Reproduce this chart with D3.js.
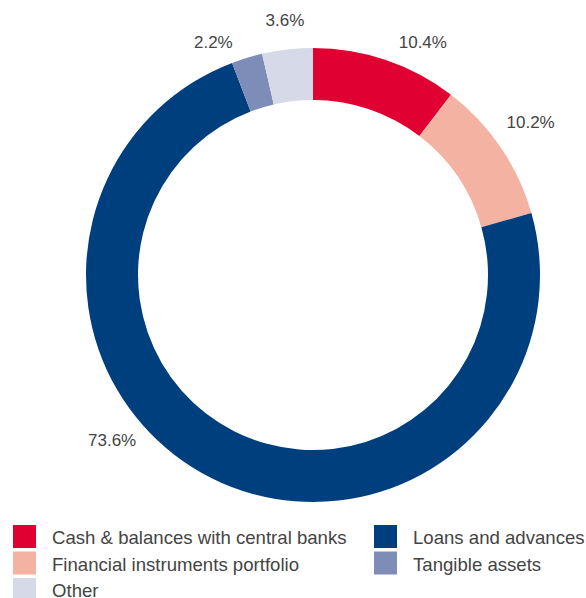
<!DOCTYPE html>
<html><head><meta charset="utf-8">
<script src="https://cdn.jsdelivr.net/npm/d3@7"></script>
<style>
html,body{margin:0;padding:0;background:#fff;}
svg{display:block;}
text{font-family:"Liberation Sans",Arial,sans-serif;fill:#444;}
</style></head>
<body>
<svg id="chart" width="586" height="598"></svg>
<script>
const categories = ["Cash & balances with central banks","Financial instruments portfolio","Loans and advances","Tangible assets","Other"];
const values = [10.4, 10.2, 73.6, 2.2, 3.6];
const labels = ["10.4%","10.2%","73.6%","2.2%","3.6%"];
const colors = ["#E10032","#F4B2A2","#003F7E","#7E8DB8","#D6DAE8"];
// label placement (degrees clockwise from top, radius in px)
const labelAngle = [25.3, 54.9, 230.6, 336.8, 353.7];
const labelRadius = [257, 266, 260, 253, 256];

const svg = d3.select("#chart");
const cx = 313, cy = 275, R = 227, r = 175;

const pie = d3.pie().sort(null).value(d => d)(values);
const arc = d3.arc().innerRadius(r).outerRadius(R);
const g = svg.append("g").attr("transform", `translate(${cx},${cy})`);
g.selectAll("path").data(pie).join("path")
  .attr("d", arc).attr("fill", (d,i) => colors[i]);

g.selectAll("text.lbl").data(pie).join("text").attr("class","lbl")
  .attr("x", (d,i) => labelRadius[i]*Math.sin(labelAngle[i]*Math.PI/180))
  .attr("y", (d,i) => -labelRadius[i]*Math.cos(labelAngle[i]*Math.PI/180))
  .attr("text-anchor","middle").attr("dominant-baseline","central")
  .style("font-size","17px")
  .text((d,i) => labels[i]);

// legend: two columns
const cols = [[0,1,4],[2,3]];
const colX = [13, 374];
const rowY0 = 525, rowH = 26.5;
cols.forEach((col, ci) => {
  col.forEach((idx, ri) => {
    const y = rowY0 + ri*rowH;
    svg.append("rect").attr("x", colX[ci]).attr("y", y).attr("width", 23).attr("height", 23)
      .attr("fill", colors[idx]);
    svg.append("text").attr("x", colX[ci] + 39).attr("y", y + 19)
      .style("font-size","18.6px").text(categories[idx]);
  });
});
</script>
</body></html>
